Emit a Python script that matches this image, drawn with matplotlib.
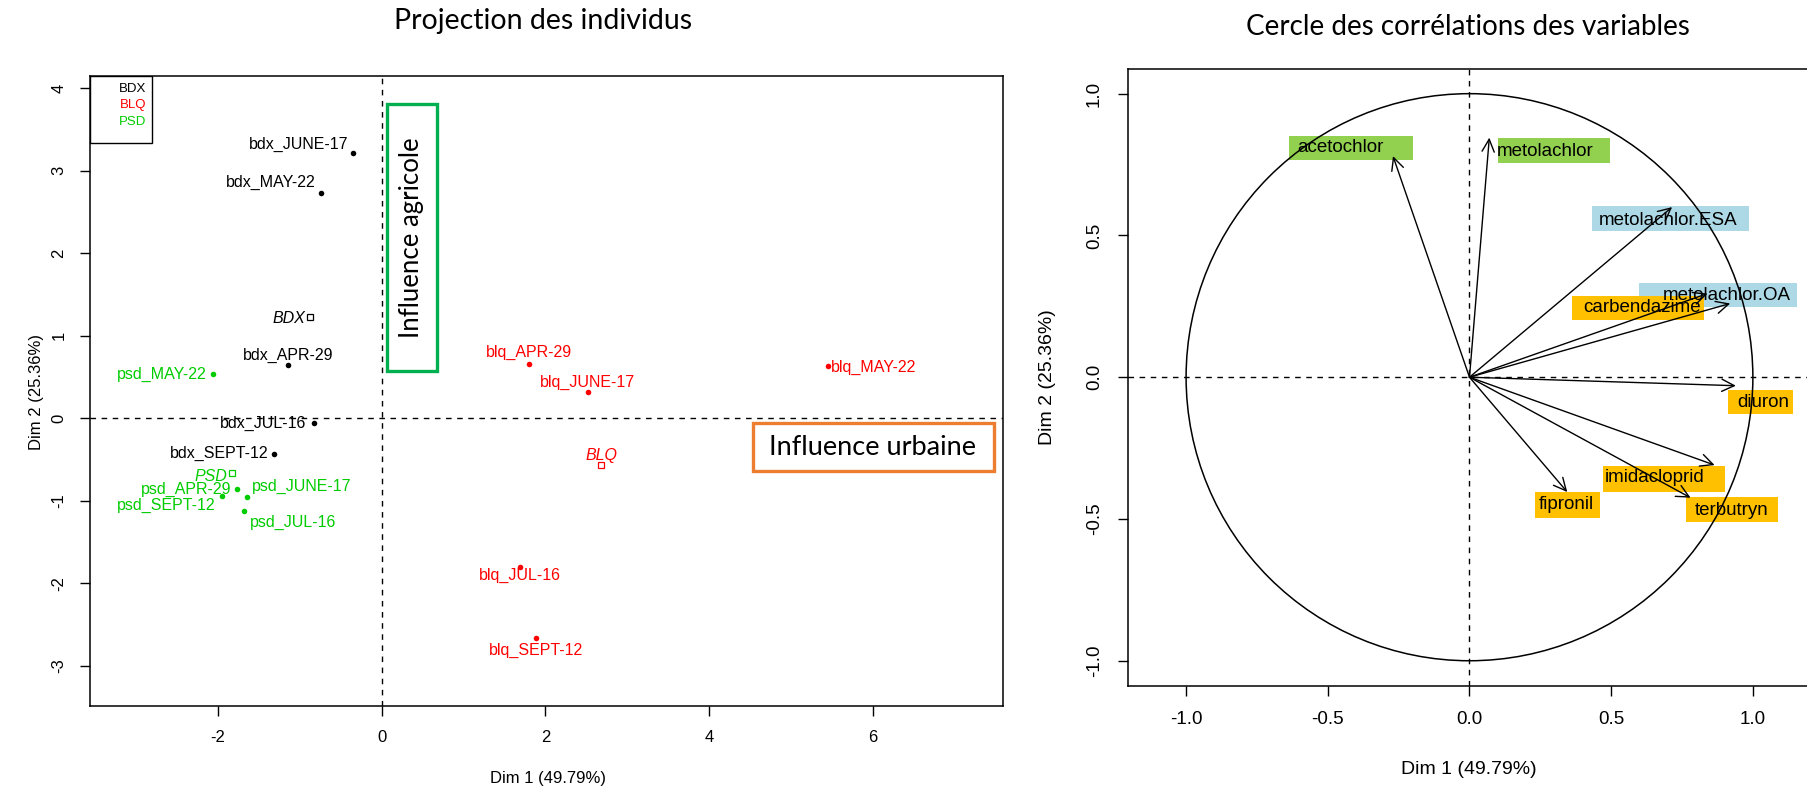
import matplotlib
matplotlib.use("Agg")
import matplotlib.pyplot as plt
from matplotlib.patches import Rectangle, Circle

# ---------------- DATA ----------------
groups = ["BDX", "BLQ", "PSD"]
group_colors = {"BDX": "black", "BLQ": "#FF0000", "PSD": "#00CC00"}

ind_labels = ["bdx_JUNE-17", "bdx_MAY-22", "bdx_APR-29", "bdx_JUL-16", "bdx_SEPT-12",
              "blq_APR-29", "blq_JUNE-17", "blq_MAY-22", "blq_JUL-16", "blq_SEPT-12",
              "psd_MAY-22", "psd_APR-29", "psd_SEPT-12", "psd_JUNE-17", "psd_JUL-16"]
ind_group = ["BDX"] * 5 + ["BLQ"] * 5 + ["PSD"] * 5
ind_dim1 = [-0.35, -0.74, -1.14, -0.83, -1.32,
            1.80, 2.52, 5.45, 1.69, 1.89,
            -2.06, -1.77, -1.95, -1.64, -1.68]
ind_dim2 = [3.22, 2.73, 0.65, -0.06, -0.43,
            0.66, 0.32, 0.63, -1.80, -2.67,
            0.53, -0.86, -0.95, -0.96, -1.12]

centroid_dim1 = [-0.87, 2.68, -1.83]
centroid_dim2 = [1.23, -0.57, -0.67]

var_names = ["acetochlor", "metolachlor", "metolachlor.ESA", "metolachlor.OA",
             "carbendazime", "diuron", "imidacloprid", "terbutryn", "fipronil"]
var_dim1 = [-0.27, 0.07, 0.715, 0.92, 0.84, 0.94, 0.865, 0.78, 0.345]
var_dim2 = [0.78, 0.845, 0.60, 0.26, 0.295, -0.03, -0.31, -0.425, -0.405]

# ---------------- LAYOUT ----------------
W, H = 1807, 790
R_FONT = "Liberation Sans"
OFFICE_FONT = "Lato"

# label offsets in pixels (dx, dy, ha)
ind_offsets = {
    "bdx_JUNE-17": (-5, 8, "right"), "bdx_MAY-22": (-5, 11, "right"),
    "bdx_APR-29": (0, 9, "center"), "bdx_JUL-16": (-7, 0, "right"),
    "bdx_SEPT-12": (-5, 0, "right"),
    "blq_APR-29": (0, 11, "center"), "blq_JUNE-17": (0, 9, "center"),
    "blq_MAY-22": (3, -1, "left"), "blq_JUL-16": (0, -9, "center"),
    "blq_SEPT-12": (0, -12, "center"),
    "psd_MAY-22": (-6, 0, "right"), "psd_APR-29": (-5, 0, "right"),
    "psd_SEPT-12": (-6, -9, "right"), "psd_JUNE-17": (5, 11, "left"),
    "psd_JUL-16": (6, -12, "left"),
}
centroid_offsets = {"BDX": (-5, -2, "right"), "BLQ": (0, 10, "center"), "PSD": (-5, -3, "right")}

# highlight boxes behind variable names: x0, x1, y0, y1, text x, text y, colour
GREEN, BLUE, ORANGE = "#92D050", "#ADD8E6", "#FFC000"
var_boxes = {
    "acetochlor": (-0.638, -0.201, 0.765, 0.849, -0.608, 0.810, GREEN),
    "metolachlor": (0.10, 0.497, 0.756, 0.845, 0.096, 0.796, GREEN),
    "metolachlor.ESA": (0.432, 0.988, 0.515, 0.604, 0.458, 0.553, BLUE),
    "metolachlor.OA": (0.598, 1.154, 0.247, 0.332, 0.682, 0.288, BLUE),
    "carbendazime": (0.362, 0.829, 0.202, 0.287, 0.402, 0.247, ORANGE),
    "diuron": (0.913, 1.14, -0.129, -0.044, 0.944, -0.088, ORANGE),
    "imidacloprid": (0.47, 0.90, -0.405, -0.314, 0.476, -0.355, ORANGE),
    "terbutryn": (0.764, 1.087, -0.51, -0.424, 0.794, -0.469, ORANGE),
    "fipronil": (0.231, 0.462, -0.495, -0.406, 0.245, -0.448, ORANGE),
}

DASH = (0, (4, 4))

fig = plt.figure(figsize=(W / 100, H / 100), dpi=100)

# ---------------- LEFT: individuals ----------------
ax1 = fig.add_axes([90 / W, 1 - 706 / H, 913 / W, 630 / H])
ax1.set_xlim(-3.563, 7.59)
ax1.set_ylim(-3.49, 4.148)
ax1.axhline(0, color="black", lw=1, ls=DASH, zorder=1)
ax1.axvline(0, color="black", lw=1, ls=DASH, zorder=1)

for lab, x, y, g in zip(ind_labels, ind_dim1, ind_dim2, ind_group):
    c = group_colors[g]
    ax1.scatter(x, y, s=16, color=c, zorder=3, linewidths=0)
    dx, dy, ha = ind_offsets[lab]
    ax1.annotate(lab, (x, y), xytext=(dx, dy), textcoords="offset pixels",
                 ha=ha, va="center", fontsize=11.5, color=c, family=R_FONT)

for g, x, y in zip(groups, centroid_dim1, centroid_dim2):
    c = group_colors[g]
    ax1.plot(x, y, marker="s", ms=5, mfc="none", mec=c, mew=0.9, zorder=3)
    dx, dy, ha = centroid_offsets[g]
    ax1.annotate(g, (x, y), xytext=(dx, dy), textcoords="offset pixels",
                 ha=ha, va="center", fontsize=11.5, color=c, family=R_FONT, style="italic")

# legend box in the corner
ax1.add_patch(Rectangle((0, 0.8937), 0.068, 0.1063, transform=ax1.transAxes,
                        fill=False, lw=1, color="black", zorder=4))
for g, yy in zip(groups, [0.979, 0.954, 0.927]):
    ax1.text(0.0613, yy, g, transform=ax1.transAxes, ha="right", va="center",
             fontsize=9.5, color=group_colors[g], family=R_FONT)

# annotation boxes
ax1.add_patch(Rectangle((0.065, 0.573), 0.611, 3.233, fill=False, lw=2.4,
                        edgecolor="#00B050", zorder=4))
ax1.text(0.37, 2.19, "Influence agricole", rotation=90, ha="center", va="center",
         fontsize=18.5, family=OFFICE_FONT)
ax1.add_patch(Rectangle((4.537, -0.639), 2.943, 0.582, fill=False, lw=2.4,
                        edgecolor="#ED7D31", zorder=4))
ax1.text(6.0, -0.35, "Influence urbaine", ha="center", va="center",
         fontsize=19.5, family=OFFICE_FONT)

ax1.set_xticks([-2, 0, 2, 4, 6])
ax1.set_yticks([-3, -2, -1, 0, 1, 2, 3, 4])
ax1.set_xticklabels(["-2", "0", "2", "4", "6"], family=R_FONT, fontsize=12)
ax1.set_yticklabels(["-3", "-2", "-1", "0", "1", "2", "3", "4"], family=R_FONT,
                    fontsize=12, rotation=90, va="center")
ax1.tick_params(length=7, width=1, pad=10)
for s in ax1.spines.values():
    s.set_linewidth(1.1)

# ---------------- RIGHT: correlation circle ----------------
ax2 = fig.add_axes([1128 / W, 1 - 685.7 / H, 1 - 1128 / W, 616.7 / H])
ax2.set_xlim(-1.205, 1.191)
ax2.set_ylim(-1.088, 1.087)
ax2.spines["right"].set_visible(False)

for name in var_names:
    x0, x1, y0, y1, tx, ty, col = var_boxes[name]
    ax2.add_patch(Rectangle((x0, y0), x1 - x0, y1 - y0, color=col, lw=0, zorder=1))

ax2.add_patch(Circle((0, 0), 1, fill=False, lw=1.1, color="black", zorder=2))
ax2.axhline(0, color="black", lw=1, ls=DASH, zorder=2)
ax2.axvline(0, color="black", lw=1, ls=DASH, zorder=2)

for name, x, y in zip(var_names, var_dim1, var_dim2):
    ax2.annotate("", xy=(x, y), xytext=(0, 0),
                 arrowprops=dict(arrowstyle="->,head_length=0.45,head_width=0.22",
                                 mutation_scale=20, lw=1, color="black",
                                 shrinkA=0, shrinkB=0), zorder=3)
    _, _, _, _, tx, ty, _ = var_boxes[name]
    ax2.text(tx, ty, name, ha="left", va="center", fontsize=13.5, family=R_FONT, zorder=4)

ticks = [-1.0, -0.5, 0.0, 0.5, 1.0]
tick_txt = ["-1.0", "-0.5", "0.0", "0.5", "1.0"]
ax2.set_xticks(ticks)
ax2.set_yticks(ticks)
ax2.set_xticklabels(tick_txt, family=R_FONT, fontsize=13.5)
ax2.set_yticklabels(tick_txt, family=R_FONT, fontsize=13.5, rotation=90, va="center")
ax2.tick_params(length=7, width=1, pad=11)
for s in ax2.spines.values():
    s.set_linewidth(1.1)

# ---------------- TITLES & AXIS LABELS ----------------
fig.text(543 / W, 1 - 21 / H, "Projection des individus", ha="center", va="center",
         fontsize=20.5, family=OFFICE_FONT)
fig.text(1468 / W, 1 - 27 / H, "Cercle des corrélations des variables", ha="center",
         va="center", fontsize=20, family=OFFICE_FONT)

fig.text(548 / W, 1 - 779 / H, "Dim 1 (49.79%)", ha="center", va="center",
         fontsize=12, family=R_FONT)
fig.text(36 / W, 1 - 392 / H, "Dim 2 (25.36%)", ha="center", va="center",
         rotation=90, fontsize=12, family=R_FONT)
fig.text(1469 / W, 1 - 769 / H, "Dim 1 (49.79%)", ha="center", va="center",
         fontsize=14, family=R_FONT)
fig.text(1047 / W, 1 - 377 / H, "Dim 2 (25.36%)", ha="center", va="center",
         rotation=90, fontsize=14, family=R_FONT)

fig.savefig("out.png", dpi=100)
